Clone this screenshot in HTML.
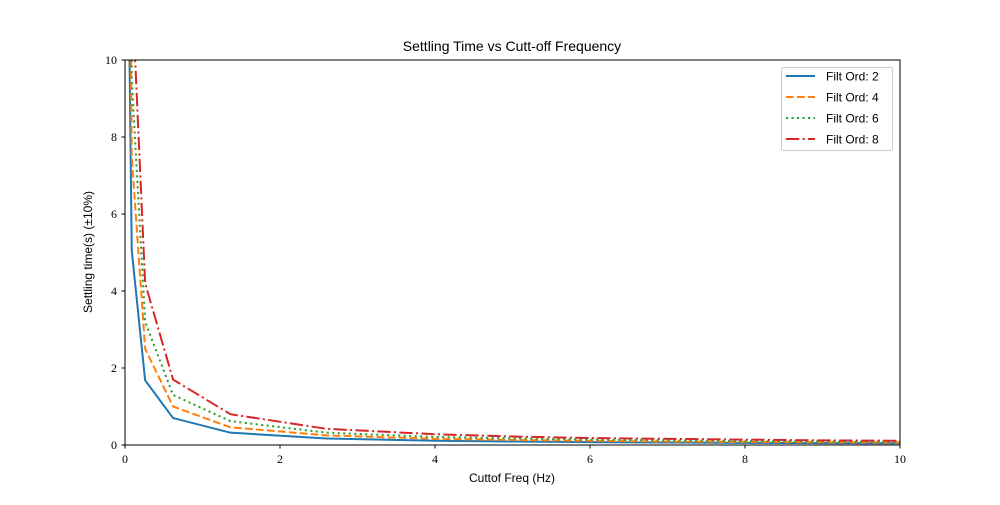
<!DOCTYPE html>
<html><head><meta charset="utf-8"><style>
body{margin:0;background:#fff}
svg text{font-family:"Liberation Serif",serif;font-size:12px;fill:#000}
.sans{font-family:"Liberation Sans",sans-serif}
</style></head><body>
<svg id="chart" width="1000" height="500">
<rect width="1000" height="500" fill="#fff"/>
<defs><clipPath id="clip"><rect x="125" y="60" width="775" height="385"/></clipPath></defs>
<g id="series" clip-path="url(#clip)"></g>
<rect x="125" y="60" width="775" height="385" fill="none" stroke="#000" stroke-width="1"/>
<g id="axes"></g>
<text class="sans" x="512" y="51" text-anchor="middle" style="font-size:14px">Settling Time vs Cutt-off Frequency</text>
<text class="sans" x="512" y="482" text-anchor="middle">Cuttof Freq (Hz)</text>
<text class="sans" transform="translate(92,252) rotate(-90)" text-anchor="middle">Settling time(s) (±10%)</text>
<g id="legend">
<rect x="781.5" y="67.5" width="111" height="83" rx="2" fill="#fff" fill-opacity="0.8" stroke="#ccc"/>
</g>
</svg>
<script>
const freqs=[0.03,0.087,0.26,0.62,1.36,2.6,4,5,6,7,8,9,10];
const ord2=[15,5.05,1.68,0.70,0.32,0.17,0.11,0.09,0.075,0.065,0.055,0.05,0.045];
const ord4=[22,7.5,2.5,1.0,0.46,0.25,0.16,0.13,0.11,0.09,0.08,0.07,0.065];
const ord6=[28,9.5,3.2,1.3,0.62,0.32,0.21,0.17,0.14,0.12,0.1,0.09,0.085];
const ord8=[36,12,4.2,1.7,0.8,0.42,0.28,0.22,0.18,0.16,0.14,0.12,0.11];
const xTicks=[0,2,4,6,8,10];
const yTicks=[0,2,4,6,8,10];
const labels=["Filt Ord: 2","Filt Ord: 4","Filt Ord: 6","Filt Ord: 8"];
const NS="http://www.w3.org/2000/svg";
const xs=v=>125+v*77.5, ys=v=>445-v*38.5;
const axes=document.getElementById('axes');
function mk(tag,at,parent){const e=document.createElementNS(NS,tag);for(const k in at)e.setAttribute(k,at[k]);parent.appendChild(e);return e;}
xTicks.forEach(t=>{
 const l=mk('line',{x1:xs(t),x2:xs(t),y1:445,y2:448.5,stroke:'#000'},axes);
 
 
 const tx=mk('text',{x:xs(t),y:463,'text-anchor':'middle'},axes);tx.textContent=t;
 
 
});
yTicks.forEach(t=>{
 const l=mk('line',{x1:121.5,x2:125,y1:ys(t),y2:ys(t),stroke:'#000'},axes);
 
 
 const tx=mk('text',{x:117,y:ys(t)+4,'text-anchor':'end'},axes);tx.textContent=t;
 
 
});
const styles=[{c:'#1f77b4',d:''},{c:'#ff7f0e',d:'7.7,3.3'},{c:'#2ca02c',d:'2.1,3.4'},{c:'#d62728',d:'13.3,3.3,2.1,3.3'}];
const data=[ord2,ord4,ord6,ord8];
const sg=document.getElementById('series'), lg=document.getElementById('legend');
data.forEach((arr,i)=>{
 const p=mk('polyline',{points:arr.map((v,j)=>xs(freqs[j])+','+ys(v)).join(' '),fill:'none',stroke:styles[i].c,'stroke-width':2,'stroke-dasharray':styles[i].d},sg);
 
 
 const y=76+i*21;
 const l=mk('line',{x1:786,x2:815,y1:y,y2:y,stroke:styles[i].c,'stroke-width':2,'stroke-dasharray':styles[i].d},lg);
 
 
 const t=mk('text',{x:826,y:y+4.5,class:'sans'},lg);t.textContent=labels[i];
 
 
});
</script>
</body></html>
